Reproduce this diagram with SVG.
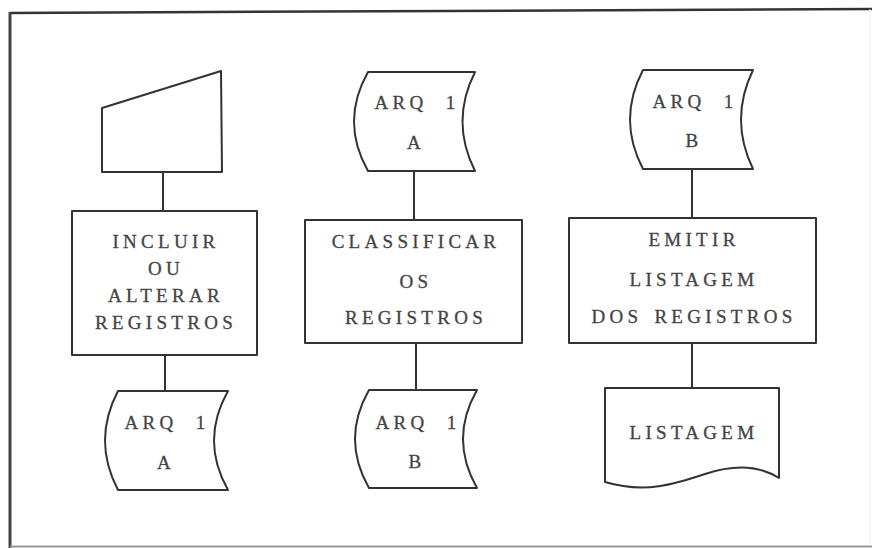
<svg xmlns="http://www.w3.org/2000/svg" width="872" height="548" viewBox="0 0 872 548">
<style>
.s{fill:#fff;stroke:#333;stroke-width:2;stroke-linejoin:round}
.c{stroke:#333;stroke-width:2;fill:none}
.t{font-family:"Liberation Serif","Times New Roman",serif;font-size:19px;letter-spacing:4.3px;word-spacing:3px;fill:#444;stroke:#444;stroke-width:0.3;text-anchor:middle}
.a{word-spacing:9px}
</style>
<rect width="872" height="548" fill="#fff"/>
<g id="frame" fill="none">
<path d="M10,13 L872,9" stroke="#333" stroke-width="2.5"/>
<path d="M10,12 L10,548" stroke="#444" stroke-width="3"/>
<path d="M10,546.5 L872,546.5" stroke="#999" stroke-width="2"/>
<path d="M870,9 L870,546" stroke="#eee" stroke-width="1"/>
</g>
<g id="connectors">
<line class="c" x1="163" y1="172" x2="163" y2="211"/>
<line class="c" x1="165" y1="355" x2="165" y2="391"/>
<line class="c" x1="414" y1="171" x2="414" y2="220"/>
<line class="c" x1="416" y1="343" x2="416" y2="390"/>
<line class="c" x1="692" y1="169" x2="692" y2="218"/>
<line class="c" x1="692" y1="343" x2="692" y2="388"/>
</g>
<g id="manual-input">
<path class="s" d="M102,108 L221,71 L222,172 L102,172 Z"/>
</g>
<g id="incluir">
<rect class="s" x="72" y="211" width="185" height="144"/>
<text class="t" x="166" y="248">INCLUIR</text>
<text class="t" x="166" y="275">OU</text>
<text class="t" x="166" y="302">ALTERAR</text>
<text class="t" x="166" y="329">REGISTROS</text>
</g>
<g id="arq1a-out">
<path class="s" d="M118,391 L228,391 Q200,440.5 228,490 L118,490 Q92,440.5 118,391 Z"/>
<text class="t a" x="167" y="429">ARQ 1</text>
<text class="t" x="166" y="469">A</text>
</g>
<g id="arq1a-in">
<path class="s" d="M368,72 L475,72 Q450,121.5 475,171 L368,171 Q340,121.5 368,72 Z"/>
<text class="t a" x="417" y="109">ARQ 1</text>
<text class="t" x="416" y="149">A</text>
</g>
<g id="classificar">
<rect class="s" x="305" y="220" width="217" height="123"/>
<text class="t" x="416" y="248">CLASSIFICAR</text>
<text class="t" x="416" y="288">OS</text>
<text class="t" x="416" y="324">REGISTROS</text>
</g>
<g id="arq1b-out">
<path class="s" d="M369,390 L477,390 Q449,439 477,488 L369,488 Q341,439 369,390 Z"/>
<text class="t a" x="418" y="429">ARQ 1</text>
<text class="t" x="417" y="468">B</text>
</g>
<g id="arq1b-in">
<path class="s" d="M643,70 L753,70 Q729,119.5 753,169 L643,169 Q617,119.5 643,70 Z"/>
<text class="t a" x="695" y="108">ARQ 1</text>
<text class="t" x="694" y="147">B</text>
</g>
<g id="emitir">
<rect class="s" x="569" y="218" width="247" height="125"/>
<text class="t" x="694" y="246">EMITIR</text>
<text class="t" x="694" y="286">LISTAGEM</text>
<text class="t" x="694" y="323">DOS REGISTROS</text>
</g>
<g id="listagem">
<path class="s" d="M605,388 H779 V478 C760,466 735,464 705,474 C675,484 645,494 605,482 Z"/>
<text class="t" x="694" y="439">LISTAGEM</text>
</g>
</svg>
